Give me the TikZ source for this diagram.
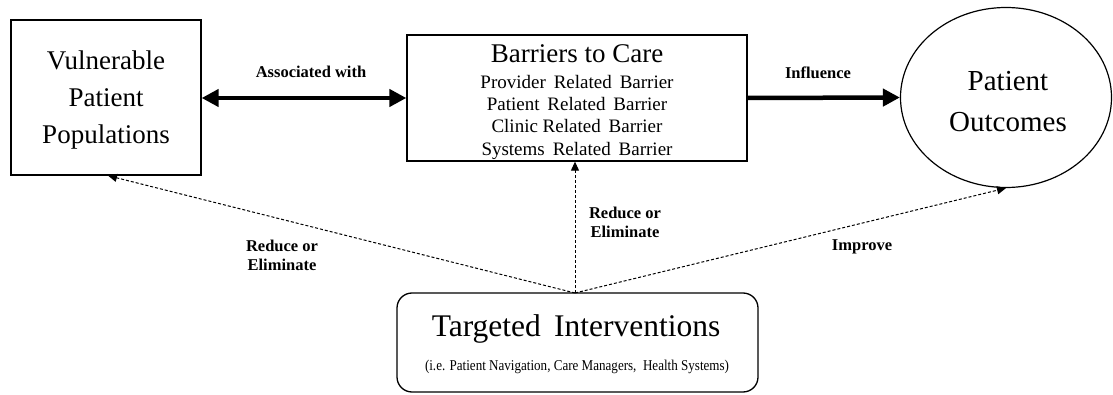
\documentclass[tikz,border=0pt]{standalone}
\usepackage{fontspec}
\setmainfont{Liberation Serif}
\usetikzlibrary{arrows.meta,shapes.geometric}
\begin{document}
\begin{tikzpicture}[x=1pt,y=-1pt,
  boxstyle/.style={draw, line width=1.3pt, align=center, inner sep=0pt},
  thickarrow/.style={line width=4.5pt, -{Triangle[length=17pt,width=17pt]}},
  thickboth/.style={line width=4.5pt, {Triangle[length=17pt,width=17pt]}-{Triangle[length=17pt,width=17pt]}},
  dasharrow/.style={line width=1pt, dash pattern=on 3pt off 2pt, -{Triangle[length=9pt,width=8pt]}},
  lbl/.style={font=\fontsize{16.5}{19}\selectfont\bfseries, align=center, inner sep=0pt}
]
\useasboundingbox (0,0) rectangle (1113,395);
\node[boxstyle, minimum width=190pt, minimum height=155pt] (vul) at (106,97.5) {};
\node[inner sep=0pt, align=center, font=\fontsize{27}{37}\selectfont] (vultxt) at (106,100)
  {Vulnerable\\Patient\\Populations};
\node[boxstyle, minimum width=340pt, minimum height=126pt] (bar) at (577,98)
  {};
\node[inner sep=0pt, font=\fontsize{27}{30}\selectfont] (bartitle) at (577,54) {Barriers to Care};
\node[inner sep=0pt, align=center, anchor=north, font=\fontsize{19}{22.3}\selectfont] (barlist) at (577,75)
  {Provider\ \,Related\ \,Barrier\\
   Patient\ \,Related\ \,Barrier\\
   Clinic\ Related\ \,Barrier\\
   Systems\ \,Related\ \,Barrier};
\node[draw, ellipse, line width=1.2pt, minimum width=211pt, minimum height=180pt,
  inner sep=0pt] (out) at (1006,97.5) {};
\node[inner sep=0pt, align=center, font=\fontsize{29}{41}\selectfont] (outtxt) at (1008,102)
  {Patient\\Outcomes};
\node[boxstyle, rounded corners=15pt, minimum width=361pt, minimum height=99pt] (int) at (577.5,342.5) {};
\node[inner sep=0pt, font=\fontsize{31.5}{34}\selectfont] (inttitle) at (576,329) {Targeted\ \,Interventions};
\node[inner sep=0pt, font=\fontsize{12.5}{14}\selectfont] (intsub) at (577,367)
  {\scalebox{1.045}[1.2]{(i.e. Patient\ Navigation, Care Managers,\ \ Health\ Systems)}};

\draw[thickboth] (vul.east |- 0,98) -- (bar.west |- 0,98);
\draw[thickarrow] (bar.east |- 0,98) -- (out.west);

\coordinate (src) at (575,293);
\draw[dasharrow] (src) -- ([xshift=2pt]vul.south);
\draw[dasharrow] (src) -- (bar.south -| src);
\draw[dasharrow] (src) -- (out.south);

\node[lbl] (l1) at (311,72) {Associated with};
\node[lbl] (l2) at (818,73) {Influence};
\node[lbl] (l3) at (282,255) {Reduce or\\Eliminate};
\node[lbl] (l4) at (625,222) {Reduce or\\Eliminate};
\node[lbl] (l5) at (862,247) {Improve};
\end{tikzpicture}
\end{document}
